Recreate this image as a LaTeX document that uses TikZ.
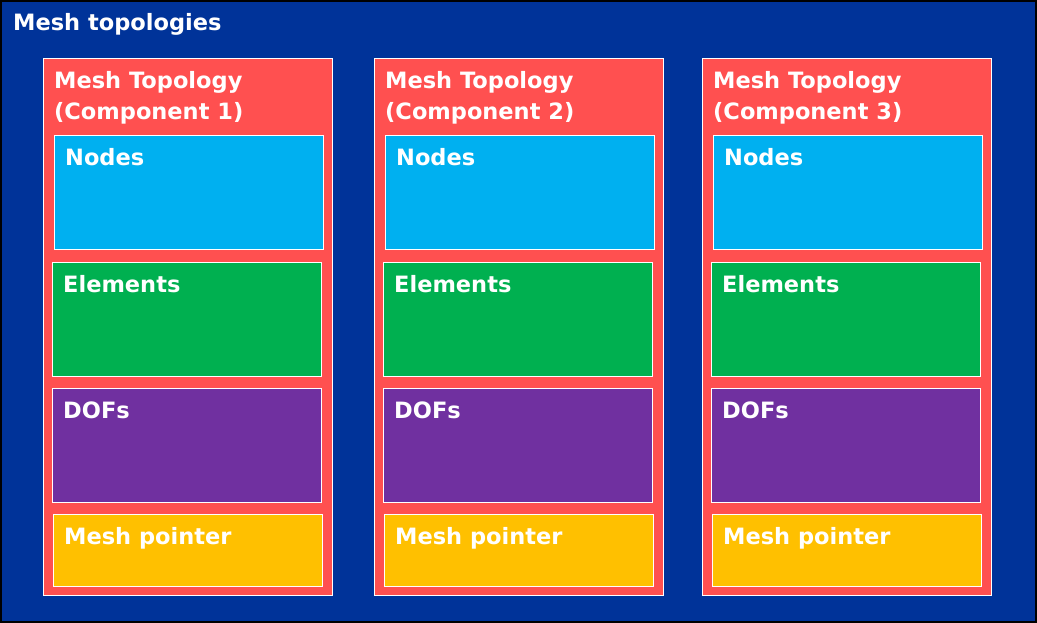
\documentclass[tikz,border=0pt]{standalone}
\usepackage{fontspec}
\setmainfont{DejaVu Sans}
\usetikzlibrary{positioning}
\definecolor{topblue}{HTML}{003399}
\definecolor{compred}{HTML}{FF5050}
\definecolor{nodescol}{HTML}{00B0F0}
\definecolor{elemscol}{HTML}{00B050}
\definecolor{dofscol}{HTML}{7030A0}
\definecolor{pointcol}{HTML}{FFC000}
\tikzset{
  part/.style={draw=white, line width=1pt, inner sep=0pt, minimum width=269pt, minimum height=114pt},
  lbl/.style={text=white, font=\bfseries\fontsize{22.5}{31}\selectfont, inner sep=0pt, anchor=base west},
}
\begin{document}
\begin{tikzpicture}[x=1pt,y=-1pt]
\useasboundingbox (0,0) rectangle (1037,623);
\fill[black] (0,0) rectangle (1037,623);
\node[fill=topblue, draw=black, inner sep=0pt, minimum width=1034pt, minimum height=620pt, anchor=north west] (top) at (1,1) {};
\node[lbl] (toplbl) at ([shift={(12,30)}]top.north west) {Mesh topologies};
\foreach \x/\n in {43/1,374/2,702/3}{
  \node[part, fill=compred, minimum width=289pt, minimum height=537pt, anchor=north west] (comp\n) at (\x,58) {};
  \node[lbl, align=left] (complbl\n) at ([shift={(11,62)}]comp\n.north west) {Mesh Topology\\(Component \n)};
  \node[part, fill=nodescol, below right=77pt and 11pt of comp\n.north west] (nodes\n) {};
  \node[part, fill=elemscol, below=11.5pt of nodes\n, xshift=-2pt] (elems\n) {};
  \node[part, fill=dofscol, below=11pt of elems\n] (dofs\n) {};
  \node[part, fill=pointcol, minimum height=72pt, below=11.5pt of dofs\n, xshift=1pt] (point\n) {};
  \node[lbl] (nodeslbl\n) at ([shift={(11,31)}]nodes\n.north west) {Nodes};
  \node[lbl] (elemslbl\n) at ([shift={(11,31)}]elems\n.north west) {Elements};
  \node[lbl] (dofslbl\n) at ([shift={(11,31)}]dofs\n.north west) {DOFs};
  \node[lbl] (pointlbl\n) at ([shift={(11,30)}]point\n.north west) {Mesh pointer};
}
\end{tikzpicture}
\end{document}
